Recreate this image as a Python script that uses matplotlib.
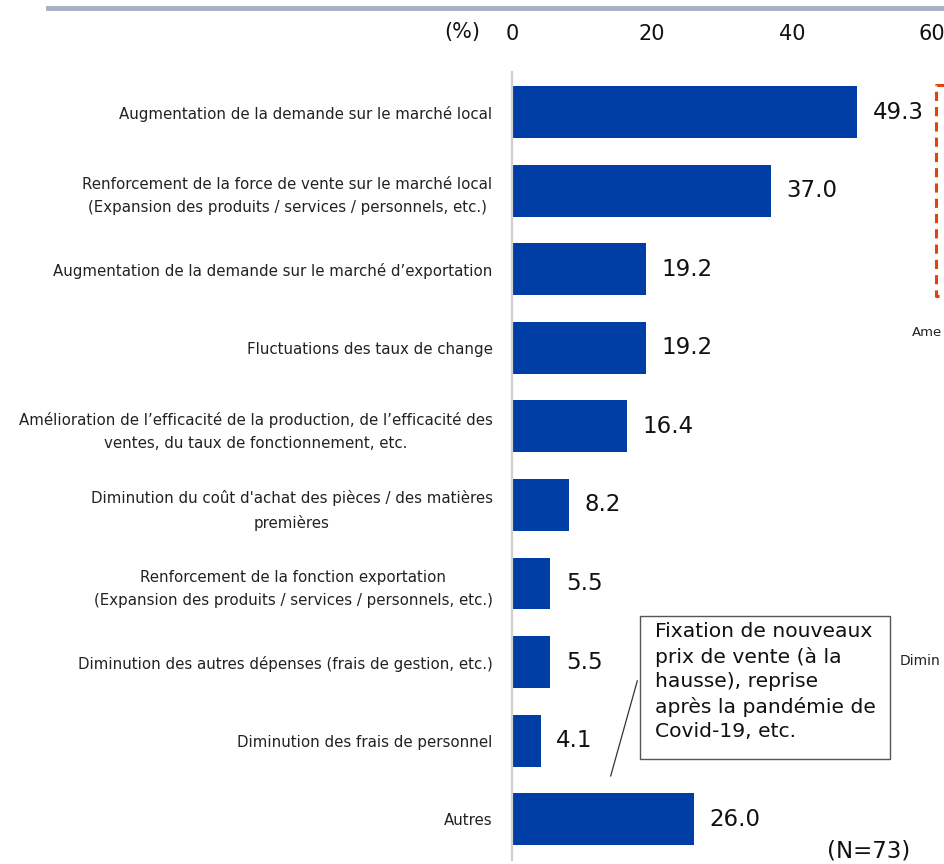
import matplotlib.pyplot as plt
from matplotlib.patches import Rectangle
from matplotlib.lines import Line2D

categories = [
    "Augmentation de la demande sur le marché local",
    "Renforcement de la force de vente sur le marché local\n(Expansion des produits / services / personnels, etc.)",
    "Augmentation de la demande sur le marché d’exportation",
    "Fluctuations des taux de change",
    "Amélioration de l’efficacité de la production, de l’efficacité des\nventes, du taux de fonctionnement, etc.",
    "Diminution du coût d'achat des pièces / des matières\npremières",
    "Renforcement de la fonction exportation\n(Expansion des produits / services / personnels, etc.)",
    "Diminution des autres dépenses (frais de gestion, etc.)",
    "Diminution des frais de personnel",
    "Autres",
]
values = [49.3, 37.0, 19.2, 19.2, 16.4, 8.2, 5.5, 5.5, 4.1, 26.0]
xticks = [0, 20, 40, 60]
note = "Fixation de nouveaux\nprix de vente (à la\nhausse), reprise\naprès la pandémie de\nCovid-19, etc."

bar_color = "#003DA5"

fig = plt.figure(figsize=(9.45, 8.64), dpi=100)
ax = fig.add_axes([0.5418, 0.0046, 0.4444, 0.912])

pos = list(range(len(values)))
ax.barh(pos, values, height=0.66, color=bar_color)
ax.set_xlim(0, 60)
ax.set_ylim(len(values) - 0.48, -0.51)

ax.xaxis.tick_top()
ax.set_xticks(xticks)
ax.set_xticklabels([str(t) for t in xticks], fontsize=15, color="#111111")
ax.tick_params(axis="x", length=0, pad=20)
ax.set_yticks(pos)
ax.set_yticklabels(categories, fontsize=10.8, color="#222222",
                   multialignment="center", linespacing=1.65)
ax.tick_params(axis="y", length=0, pad=14)
for s in ["top", "right", "bottom"]:
    ax.spines[s].set_visible(False)
ax.spines["left"].set_color("#CFCFCF")
ax.spines["left"].set_linewidth(1.6)

# value labels next to each bar
for p, v in zip(pos, values):
    ax.text(v + 2.2, p, f"{v:.1f}", va="center", ha="left", fontsize=16.5, color="#111111")

fig.text(0.508, 0.963, "(%)", ha="right", va="center", fontsize=15, color="#111111")
fig.text(0.963, 0.015, "(N=73)", ha="right", va="center", fontsize=16.5, color="#111111")

# callout box for "Autres"
ax.add_patch(Rectangle((18.3, 6.41), 35.7, 1.82, facecolor="white",
                       edgecolor="#555555", linewidth=1, clip_on=False, zorder=3))
ax.text(20.4, 6.49, note, ha="left", va="top", fontsize=14.6, color="#111111",
        linespacing=1.36, zorder=4)
ax.plot([14.1, 17.9], [8.45, 7.24], color="#333333", lw=0.9, clip_on=False)

# header rule and pieces of the neighbouring panel
fig.add_artist(Line2D([48 / 945, 1], [1 - 8 / 864, 1 - 8 / 864], color="#A3B0C6", lw=3.5))
red = "#E8400C"
fig.add_artist(Line2D([1.0, 936 / 945, 936 / 945, 1.0],
                      [1 - 85 / 864, 1 - 85 / 864, 1 - 296 / 864, 1 - 296 / 864],
                      color=red, lw=2.2, ls=(0, (3, 2))))
fig.text(912 / 945, 1 - 332 / 864, "Ame", fontsize=9.5, color="#222222", va="center")
fig.text(900 / 945, 1 - 661 / 864, "Dimin", fontsize=10, color="#222222", va="center")

fig.savefig("out.png", dpi=100)
